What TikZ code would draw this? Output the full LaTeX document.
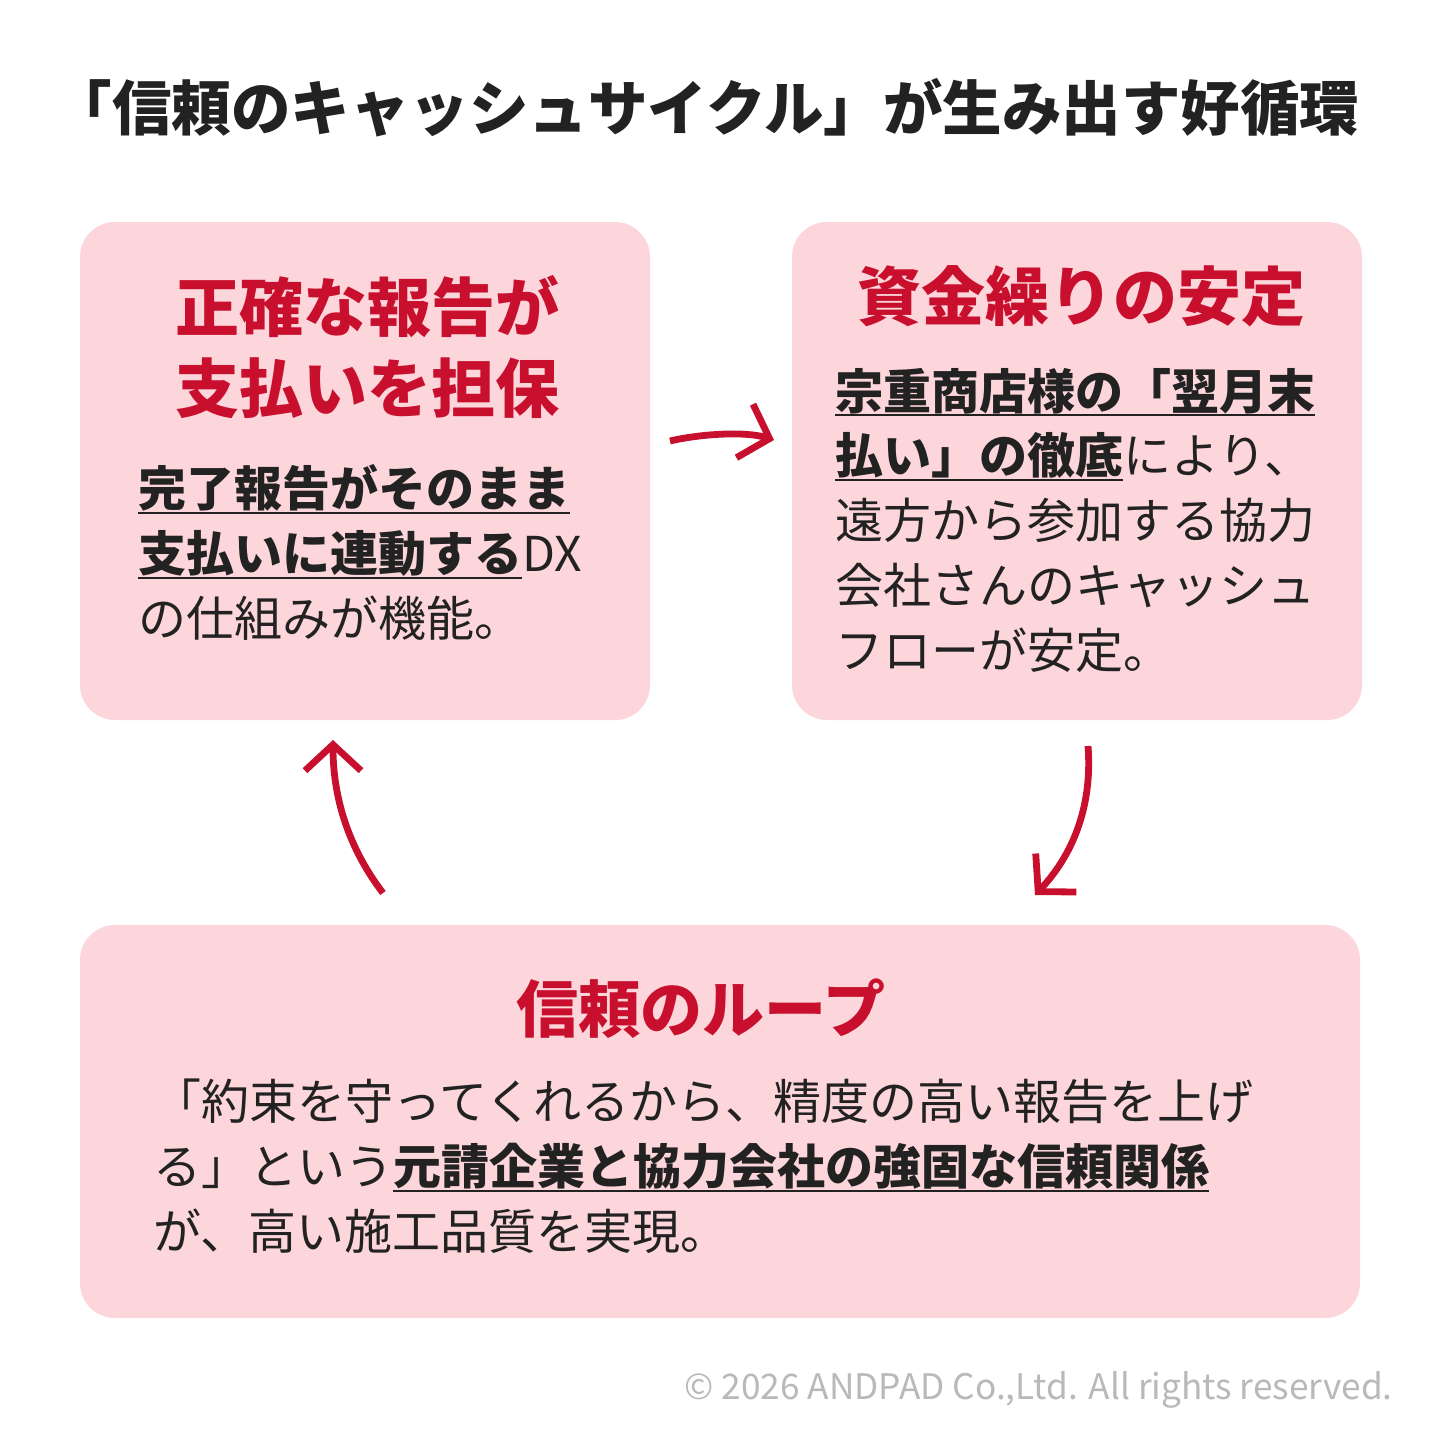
\documentclass[tikz,border=0pt]{standalone}
\usepackage{fontspec}
\setmainfont{Noto Sans CJK JP}
\usetikzlibrary{arrows.meta}
\definecolor{boxpink}{RGB}{253,214,219}
\definecolor{accred}{RGB}{200,16,46}
\definecolor{inktext}{RGB}{34,34,34}
\definecolor{copygray}{RGB}{185,185,185}
\newcommand\myul[1]{\setbox0=\hbox{#1}\rlap{\rule[-3.6pt]{\wd0}{1pt}}\box0}
\begin{document}
\begin{tikzpicture}[x=0.5pt,y=-0.5pt,
  card/.style={fill=boxpink, draw=none, rounded corners=17.5pt, inner sep=0pt},
  headtext/.style={anchor=base, align=center, text=accred, font=\fontsize{32pt}{40.5pt}\selectfont\bfseries},
  bodytext/.style={anchor=base west, align=left, inner sep=0pt, text=inktext, font=\fontsize{24pt}{32.35pt}\selectfont},
  loop/.style={draw=accred, line width=3.4pt, -{Straight Barb[length=13pt,width=28pt,line width=3.4pt]}}]
\useasboundingbox (0,0) rectangle (1440,1440);
\fill[white] (0,0) rectangle (1440,1440);
% title
\node[anchor=base, inner sep=0pt, text=inktext, font=\fontsize{29.75pt}{35pt}\selectfont\bfseries] (title) at (706,130) {「信頼のキャッシュサイクル」が生み出す好循環};
% cards
\node[card, minimum width=285pt, minimum height=249pt] (cardA) at (365,471) {};
\node[card, minimum width=285pt, minimum height=249pt] (cardB) at (1077,471) {};
\node[card, minimum width=640pt, minimum height=196.5pt] (cardC) at (720,1121.5) {};
% card A
\node[headtext] (headA) at (367,412) {正確な報告が\\支払いを担保};
\node[bodytext] (bodyA) at (138,636) {\myul{\bfseries 完了報告がそのまま}\\\myul{\bfseries 支払いに連動する}DX\\の仕組みが機能。};
% card B
\node[headtext] (headB) at (1081,320) {資金繰りの安定};
\node[bodytext] (bodyB) at (835,668) {\myul{\bfseries 宗重商店様の「翌月末}\\\myul{\bfseries 払い」の徹底}により、\\遠方から参加する協力\\会社さんのキャッシュ\\フローが安定。};
% card C
\node[headtext, font=\fontsize{31pt}{40pt}\selectfont\bfseries] (headC) at (701,1032) {信頼のループ};
\node[bodytext] (bodyC) at (153,1249) {「約束を守ってくれるから、精度の高い報告を上げ\\る」という\myul{\bfseries 元請企業と協力会社の強固な信頼関係}\\が、高い施工品質を実現。};
% arrows
\coordinate (a1s) at (670,441);
\coordinate (a1e) at (774,440);
\coordinate (a2s) at (383,893);
\coordinate (a2e) at (333,740);
\coordinate (a3s) at (1088,746);
\coordinate (a3e) at (1035,895);
\draw[loop] (a1s) .. controls (700,434) and (745,431) .. (a1e);
\draw[loop] (a2s) .. controls (350,850) and (333,800) .. (a2e);
\draw[loop] (a3s) .. controls (1093,810) and (1070,858) .. (a3e);
% copyright
\node[anchor=base east, inner sep=0pt, text=copygray, font=\fontsize{17.6pt}{20pt}\selectfont] (copy) at (1393,1399) {© 2026 ANDPAD Co.,Ltd. All rights reserved.};
\end{tikzpicture}
\end{document}
